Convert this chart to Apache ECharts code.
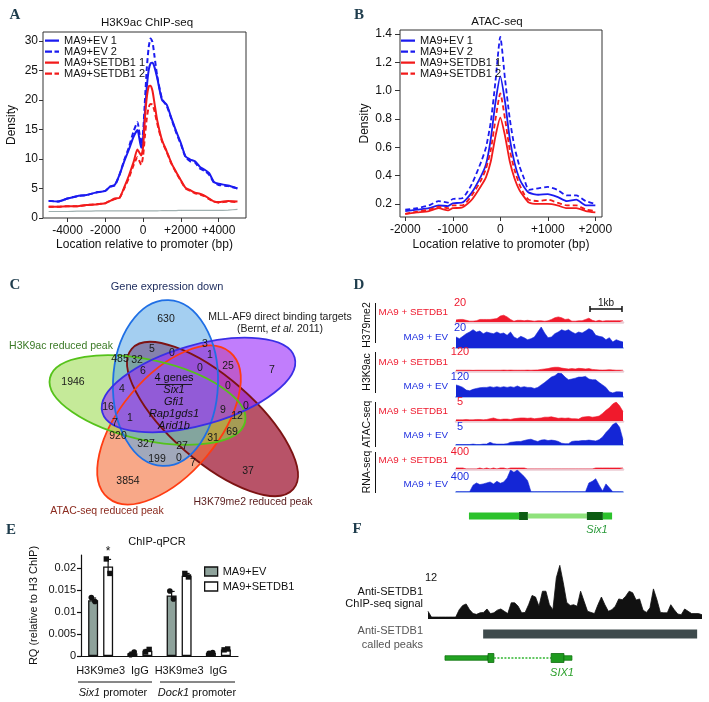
<!DOCTYPE html>
<html><head><meta charset="utf-8">
<script src="https://cdn.jsdelivr.net/npm/echarts@6/dist/echarts.min.js"></script>
<style>html,body{margin:0;padding:0;background:#fff}#c{width:709px;height:702px}</style>
</head><body><div id="c"></div>
<script>
// ===== Panel A: H3K9ac ChIP-seq profile =====
const posA = [-5000,-4500,-4000,-3500,-3000,-2500,-2000,-1750,-1500,-1250,-1000,-750,-500,-300,-100,0,100,200,300,400,500,600,750,1000,1250,1500,1750,2000,2250,2500,2750,3000,3250,3500,3750,4000,4500,5000];
const a_ev1 = [2.9,2.8,3.3,3.7,3.9,4.3,4.6,5.3,5.6,7.3,9.6,11.6,13.8,14.9,11.9,13.5,18,22.3,25.1,26.2,26.3,25.6,23.7,20,19.2,16.9,14.7,12.7,10.4,9.9,9.6,8.7,8.2,7.6,6.1,5.8,5.5,5.0];
const a_ev2 = [2.9,2.8,3.3,3.7,3.9,4.3,4.6,5.3,5.5,7.3,9.8,12,14.7,16.2,12.5,14.5,20,25.5,29,30.4,29.8,27.5,24,20.2,19,16.8,14.5,12.5,10.3,9.6,9.4,8.4,8.0,7.3,6.0,5.6,5.4,5.0];
const a_set1 = [1.9,1.9,2.0,2.0,2.2,2.3,2.5,2.9,3.3,3.4,5.2,7.2,9.5,11.6,10.6,12,17,20.5,22.3,22.4,21.5,19.5,16.5,13.2,11.3,9.3,7.8,6.4,5.1,4.7,4.3,4.1,3.8,3.3,2.8,2.7,2.9,2.8];
const a_set2 = [1.9,1.9,2.0,2.0,2.2,2.3,2.5,2.9,3.2,3.4,5.0,6.8,9.0,10.3,9.0,10.5,14,17,18.8,19.3,19.2,18.2,16,13.0,11.2,9.2,7.7,6.3,5.0,4.6,4.2,4.0,3.7,3.2,2.8,2.6,2.8,2.7];
const a_input = [1.1,1.1,1.1,1.15,1.15,1.2,1.2,1.2,1.2,1.2,1.2,1.2,1.2,1.2,1.2,1.2,1.2,1.2,1.2,1.2,1.2,1.2,1.2,1.25,1.25,1.25,1.25,1.3,1.3,1.3,1.3,1.3,1.3,1.3,1.3,1.3,1.35,1.45];
const a_xTicks = [-4000,-2000,0,2000,4000];
const a_yTicks = [0,5,10,15,20,25,30];

// ===== Panel B: ATAC-seq profile =====
const posB = [-2000,-1750,-1500,-1300,-1100,-1000,-800,-600,-400,-300,-200,-100,0,100,200,300,400,500,600,800,1000,1200,1400,1600,1800,2000];
const b_ev1 = [0.15,0.16,0.17,0.19,0.185,0.205,0.21,0.28,0.40,0.48,0.66,0.92,1.10,0.92,0.66,0.49,0.38,0.32,0.28,0.265,0.27,0.25,0.22,0.23,0.19,0.19];
const b_ev2 = [0.16,0.17,0.19,0.22,0.21,0.235,0.24,0.34,0.50,0.60,0.78,1.07,1.38,1.08,0.80,0.60,0.47,0.38,0.30,0.31,0.32,0.30,0.26,0.26,0.22,0.20];
const b_set1 = [0.13,0.14,0.15,0.17,0.155,0.17,0.175,0.23,0.33,0.39,0.50,0.68,0.81,0.68,0.50,0.38,0.30,0.25,0.21,0.20,0.20,0.19,0.17,0.17,0.15,0.14];
const b_set2 = [0.13,0.145,0.16,0.18,0.17,0.19,0.19,0.26,0.37,0.45,0.58,0.80,0.98,0.80,0.58,0.44,0.34,0.27,0.23,0.22,0.23,0.21,0.19,0.19,0.16,0.15];
const b_xTicks = [-2000,-1000,0,1000,2000];
const b_yTicks = [0.2,0.4,0.6,0.8,1.0,1.2,1.4];

const seriesNames = ['MA9+EV 1','MA9+EV 2','MA9+SETDB1 1','MA9+SETDB1 2'];

// ===== Panel C: Venn =====
const vennCounts = [630,1946,7,37,3854,485,32,5,0,3,1,0,25,6,4,0,0,16,9,12,1,7,920,69,31,327,27,199,0,7];
const vennCore = ['4 genes','Six1','Gfi1','Rap1gds1','Arid1b'];

// ===== Panel D: genome tracks (50 bins) =====
const d_k79_set = [2.5,3,3,2,1,1,1.5,3,3,3,3,3.5,4,7,8,6,3,1,2,2,1.5,2,1.5,1,1.5,1.5,1,1.5,3,5,6,5,3,3.5,1,1,1.5,1.5,3,4.5,2,1,2,1,1.5,1.5,1.5,1.5,1.5,1.5];
const d_k79_ev = [11,9.3,11.7,14.3,16,18.3,16,17,14.3,16,15,14.3,16,14.3,15,12.7,16,11,9.3,11.7,10.3,8.3,9.3,11,16,21,15,10.3,11,14.3,16,18.3,17,18.3,16,14.3,16,15,17,19.3,17.7,12.7,11.7,11,8.3,10.3,6,8.3,7,6];
const d_k9_set = [6,6,6,6,6,5,6,6,6,6,6,6,6,6,7,6,7,6,6,6,6,7,6,7,8,12,15,18,25,28,28,22,18,15,18,15,20,18,15,18,12,10,8,7,8,10,8,6,6,6];
const d_k9_ev = [68,62,54,39,35,43,48,52,54,54,58,54,58,54,58,54,58,54,62,54,58,54,54,48,54,68,81,97,112,120,135,132,112,97,101,106,112,112,116,101,97,97,81,68,54,29,23,29,29,27];
const d_atac_set = [0.3,0.3,0.3,0.4,0.3,0.3,0.4,0.4,0.3,0.4,0.6,0.8,0.5,0.4,0.5,0.5,0.4,0.6,0.7,0.8,0.8,0.7,0.8,0.6,0.7,0.8,1.0,1.0,1.1,0.9,0.7,0.8,0.7,0.8,0.6,0.6,0.5,1.0,1.1,1.2,1.0,1.1,1.3,2.0,2.8,3.5,4.5,5.0,4.0,2.5];
const d_atac_ev = [0.1,0.1,0.1,0.1,0.1,0.2,0.1,0.1,0.2,0.2,0.6,0.3,0.2,0.2,0.2,0.3,0.6,0.7,0.8,0.8,1.0,1.2,1.3,1.0,0.8,1.1,1.2,1.0,1.1,1.0,0.8,0.4,0.3,0.3,0.8,0.9,0.9,1.0,1.0,1.1,1.0,0.9,1.2,1.8,2.8,3.6,4.6,5.0,4.0,1.2];
const d_rna_set = [25,25,25,0,0,0,0,25,0,25,0,25,0,25,25,0,25,25,25,25,25,0,0,0,0,0,0,0,0,0,0,0,0,0,0,0,0,0,0,0,0,25,25,25,25,25,25,25,25,25];
const d_rna_ev = [5,5,5,5,5,124,165,135,147,165,182,147,194,159,182,253,400,359,400,341,282,206,5,5,5,5,5,5,5,5,5,5,5,5,5,5,5,5,5,165,194,241,124,18,147,76,5,5,5,5];
const d_scaleMax = ['20','20','120','120','5','5','400','400'];
const d_marks = ['H379me2','H3K9ac','ATAC-seq','RNA-seq'];
const d_geneStart = [3.8,18.5,21.1,38.4,43.1];
const d_geneEnd = [18.5,21.1,38.4,43.1,45.8];
const d_geneKind = [0,1,2,1,0];

// ===== Panel E: ChIP-qPCR =====
const eCats = ['Six1 H3K9me3','Six1 IgG','Dock1 H3K9me3','Dock1 IgG'];
const eTickLabels = ['H3K9me3','IgG','H3K9me3','IgG'];
const eEV = [0.0127,0.0006,0.0138,0.0007];
const eSET = [0.0204,0.0012,0.0183,0.0015];
const eEVerr = [0.0005,0.0003,0.0009,0.0001];
const eSETerr = [0.0016,0.0003,0.0005,0.0001];
const eEVrep1 = [0.0133,0.0003,0.0148,0.0006];
const eEVrep2 = [0.0124,0.0009,0.0130,0.0008];
const eSETrep1 = [0.0221,0.0009,0.0188,0.0014];
const eSETrep2 = [0.0188,0.0015,0.0180,0.0016];
const eSig = ['*','','',''];
const eYTicks = [0,0.005,0.01,0.015,0.02];

// ===== Panel F: SETDB1 ChIP-seq (80 bins) =====
const f_signal = [2.0,0.5,0.5,0.5,0.5,0.5,0.5,0.5,0.5,2.4,3.5,3.9,2.4,1.4,1.2,1.6,1.7,2.6,1.4,1.6,2.3,2.6,2.0,1.4,4.2,4.2,3.3,1.6,1.7,3.7,6.1,5.7,3.3,7.2,7.2,3.7,2.4,10.7,13.9,9.4,4.3,3.5,3.7,3.3,7.2,4.6,2.0,1.7,1.4,3.7,5.7,3.7,2.0,2.4,3.3,5.2,5.0,5.9,7.2,6.8,4.9,5.2,2.3,1.7,2.9,7.8,5.0,1.7,1.6,1.6,3.7,2.4,1.3,1.1,2.6,2.0,1.4,1.4,1.4,1.1];
const f_peakStart = [15.9];
const f_peakEnd = [77.6];
const f_geneStart = [4.9,17.3,19.0,35.5,39.2];
const f_geneEnd = [17.3,19.0,35.5,39.2,41.5];
const f_geneKind = [0,1,2,1,0];

// ================= styles / layout =================
const FONT = 'Liberation Sans';
const BLUE = '#1b1bf0', RED = '#f21b1b';
const TRACK_BLUE = '#1426d6', TRACK_RED = '#f01a2c';
const chart = echarts.init(document.getElementById('c'));

function xy(xs, ys){ return xs.map((x,i)=>[x, ys[i]]); }
function idx(ys){ return ys.map((v,i)=>[i, v]); }
function profLine(name, g, xs, ys, color, dashed, w){
  return {name, type:'line', xAxisIndex:g, yAxisIndex:g, data:xy(xs,ys), symbol:'none', showSymbol:false,
    smooth:0.2, lineStyle:{color, width:w, type: dashed ? [5,3] : 'solid'}, itemStyle:{color}, z:3};
}
function track(g, ys, color){
  return {type:'line', xAxisIndex:g, yAxisIndex:g, data:idx(ys), symbol:'none', showSymbol:false, silent:true,
    lineStyle:{width:0.6, color}, areaStyle:{color, opacity:1}, z:3};
}
function T(x, y, text, o){
  const st = Object.assign({text, fill:'#111', fontFamily:FONT, fontSize:11, align:'center', verticalAlign:'middle'}, o||{});
  const rot = st.rot || 0; delete st.rot;
  return {type:'text', x, y, rotation:rot, silent:true, z:50, style:st};
}
function L(x1,y1,x2,y2,color,w){
  return {type:'line', silent:true, z:50, shape:{x1,y1,x2,y2}, style:{stroke:color||'#111', lineWidth:w||1}};
}

// grids
const trackLayout = [[305,17],[327,21],[355,16],[373,24],[402,19],[421,24],[452,17],[470,22]];
const trackMax = [20,21,120,135,5,5.4,400,400];
const trackVals = [d_k79_set,d_k79_ev,d_k9_set,d_k9_ev,d_atac_set,d_atac_ev,d_rna_set,d_rna_ev];
const grids = [
  {left:43, top:32, width:203, height:186, show:true, borderColor:'#333', borderWidth:1},
  {left:400, top:30, width:202, height:187, show:true, borderColor:'#333', borderWidth:1},
  {left:81, top:555, width:157, height:101}
];
trackLayout.forEach(t => grids.push({left:456, width:167, top:t[0], height:t[1]}));
grids.push({left:456, width:167, top:510, height:12});   // D gene (grid 11)
grids.push({left:428, width:274, top:565, height:54});   // F signal (grid 12)
grids.push({left:428, width:274, top:634, height:24});   // F annotation (grid 13)

const axisTxt = {color:'#111', fontSize:12, fontFamily:FONT};
const xAxes = [
  {gridIndex:0, type:'value', min:-5300, max:5450, axisLine:{show:false, onZero:false}, splitLine:{show:false},
   axisTick:{show:true, length:4, customValues:a_xTicks, lineStyle:{color:'#333'}},
   axisLabel:Object.assign({customValues:a_xTicks, margin:7, formatter:v=> v>0 ? '+'+v : String(v)}, axisTxt),
   name:'Location relative to promoter (bp)', nameLocation:'middle', nameGap:21, nameTextStyle:axisTxt},
  {gridIndex:1, type:'value', min:-2110, max:2140, axisLine:{show:false, onZero:false}, splitLine:{show:false},
   axisTick:{show:true, length:4, customValues:b_xTicks, lineStyle:{color:'#333'}},
   axisLabel:Object.assign({customValues:b_xTicks, margin:7, formatter:v=> v>0 ? '+'+v : String(v)}, axisTxt),
   name:'Location relative to promoter (bp)', nameLocation:'middle', nameGap:22, nameTextStyle:axisTxt},
  {gridIndex:2, type:'category', data:eCats, axisLine:{onZero:false, lineStyle:{color:'#111', width:1.2}},
   axisTick:{alignWithLabel:true, length:4, lineStyle:{color:'#111', width:1.2}},
   axisLabel:{formatter:(v,i)=>eTickLabels[i], fontSize:11, color:'#111', margin:9, fontFamily:FONT, interval:0}}
];
const yAxes = [
  {gridIndex:0, type:'value', min:0, max:31.5, axisLine:{show:false, onZero:false}, splitLine:{show:false},
   axisTick:{show:true, length:4, customValues:a_yTicks, lineStyle:{color:'#333'}},
   axisLabel:Object.assign({customValues:a_yTicks, margin:5}, axisTxt),
   name:'Density', nameLocation:'middle', nameGap:25, nameRotate:90, nameTextStyle:axisTxt},
  {gridIndex:1, type:'value', min:0.108, max:1.428, axisLine:{show:false, onZero:false}, splitLine:{show:false},
   axisTick:{show:true, length:5, customValues:b_yTicks, lineStyle:{color:'#333'}},
   axisLabel:Object.assign({customValues:b_yTicks, margin:8, formatter:v=>v.toFixed(1)}, axisTxt),
   name:'Density', nameLocation:'middle', nameGap:29, nameRotate:90, nameTextStyle:axisTxt},
  {gridIndex:2, type:'value', min:0, max:0.023, splitLine:{show:false},
   axisLine:{show:true, onZero:false, lineStyle:{color:'#111', width:1.2}},
   axisTick:{show:true, length:4, customValues:eYTicks, lineStyle:{color:'#111', width:1.2}},
   axisLabel:{customValues:eYTicks, fontSize:11, color:'#111', margin:5, fontFamily:FONT, formatter:v=>String(+(+v).toFixed(4))},
   name:'RQ (relative to H3 ChIP)', nameLocation:'middle', nameGap:42, nameRotate:90,
   nameTextStyle:{fontSize:11, color:'#111', fontFamily:FONT}}
];
trackLayout.forEach((t, k) => {
  const g = 3 + k, isRed = k % 2 === 0;
  xAxes.push({gridIndex:g, type:'value', min:0, max:49, splitLine:{show:false}, axisTick:{show:false}, axisLabel:{show:false},
    axisLine:{show:true, onZero:false, lineStyle:{color: isRed ? '#ecccd3' : '#a4bdf0', width: isRed ? 2.5 : 2}}});
  yAxes.push({gridIndex:g, type:'value', min:0, max:trackMax[k], show:false, splitLine:{show:false}});
});
xAxes.push({gridIndex:11, type:'value', min:0, max:49, show:false});
yAxes.push({gridIndex:11, type:'value', min:0, max:1, show:false});
xAxes.push({gridIndex:12, type:'value', min:0, max:79, show:false});
yAxes.push({gridIndex:12, type:'value', min:0, max:14, show:false});
xAxes.push({gridIndex:13, type:'value', min:0, max:79, show:false});
yAxes.push({gridIndex:13, type:'value', min:0, max:1, show:false});

// series
const series = [
  {name:'Input', type:'line', xAxisIndex:0, yAxisIndex:0, data:xy(posA,a_input), symbol:'none', smooth:0.2, lineStyle:{color:'#9fb0b0', width:1.2}, z:2},
  profLine(seriesNames[0],0,posA,a_ev1,BLUE,false,2),
  profLine(seriesNames[1],0,posA,a_ev2,BLUE,true,2),
  profLine(seriesNames[2],0,posA,a_set1,RED,false,2),
  profLine(seriesNames[3],0,posA,a_set2,RED,true,2),
  profLine(seriesNames[0],1,posB,b_ev1,BLUE,false,1.8),
  profLine(seriesNames[1],1,posB,b_ev2,BLUE,true,1.8),
  profLine(seriesNames[2],1,posB,b_set1,RED,false,1.8),
  profLine(seriesNames[3],1,posB,b_set2,RED,true,1.8),
  {name:'MA9+EV', type:'bar', xAxisIndex:2, yAxisIndex:2, data:eEV, barWidth:10, barGap:'50%',
   itemStyle:{color:'#8ea29b', borderColor:'#111', borderWidth:1.3}},
  {name:'MA9+SETDB1', type:'bar', xAxisIndex:2, yAxisIndex:2, data:eSET, barWidth:10, barGap:'50%',
   itemStyle:{color:'#ffffff', borderColor:'#111', borderWidth:1.3}}
];
function errRenderer(dx, square){
  return function(params, api){
    const cat = api.value(0), m = api.value(1), e = api.value(2), r1 = api.value(3), r2 = api.value(4);
    const cx = api.coord([cat, 0])[0] + dx;
    const yT = api.coord([cat, m + e])[1], yB = api.coord([cat, Math.max(0, m - e)])[1];
    const kids = [
      {type:'line', shape:{x1:cx, y1:yT, x2:cx, y2:yB}, style:{stroke:'#111', lineWidth:1.2}},
      {type:'line', shape:{x1:cx-3, y1:yT, x2:cx+3, y2:yT}, style:{stroke:'#111', lineWidth:1.2}}
    ];
    [[r1,-1.8],[r2,1.8]].forEach(p => {
      const py = api.coord([cat, p[0]])[1], px = cx + p[1];
      kids.push(square ? {type:'rect', shape:{x:px-2.7, y:py-2.7, width:5.4, height:5.4}, style:{fill:'#111'}}
                       : {type:'circle', shape:{cx:px, cy:py, r:2.8}, style:{fill:'#111'}});
    });
    const sig = square ? eSig[cat] : '';
    if (sig) kids.push({type:'text', style:{text:sig, x:cx, y:yT-2, align:'center', verticalAlign:'bottom', fontSize:12, fontFamily:FONT, fill:'#111'}});
    return {type:'group', children:kids};
  };
}
series.push({type:'custom', xAxisIndex:2, yAxisIndex:2, renderItem:errRenderer(-7.5,false), z:5, silent:true,
  encode:{x:0, y:1}, data:eCats.map((c,i)=>[i, eEV[i], eEVerr[i], eEVrep1[i], eEVrep2[i]])});
series.push({type:'custom', xAxisIndex:2, yAxisIndex:2, renderItem:errRenderer(7.5,true), z:5, silent:true,
  encode:{x:0, y:1}, data:eCats.map((c,i)=>[i, eSET[i], eSETerr[i], eSETrep1[i], eSETrep2[i]])});

trackVals.forEach((v,k) => series.push(track(3+k, v, k % 2 === 0 ? TRACK_RED : TRACK_BLUE)));

function segRenderer(styles){
  return function(params, api){
    const s = api.value(0), e = api.value(1), row = api.value(2), st = styles[api.value(3)];
    const p0 = api.coord([s,row]), p1 = api.coord([e,row]);
    if (st.line) return {type:'line', shape:{x1:p0[0], y1:p0[1], x2:p1[0], y2:p1[1]}, style:{stroke:st.stroke, lineWidth:st.h, lineDash:st.dash}};
    return {type:'rect', shape:{x:p0[0], y:p0[1]-st.h/2, width:p1[0]-p0[0], height:st.h, r:st.r||0},
            style:{fill:st.fill, stroke:st.stroke||null, lineWidth:st.lw||0}};
  };
}
const dGeneStyles = [{h:7, fill:'#2cc22c'},{h:8, fill:'#0c5c12'},{h:5, fill:'#8fe27c'}];
series.push({type:'custom', xAxisIndex:11, yAxisIndex:11, silent:true, renderItem:segRenderer(dGeneStyles), encode:{x:[0,1], y:2},
  data:d_geneStart.map((s,i)=>[s, d_geneEnd[i], 0.5, d_geneKind[i]])});
series.push({type:'line', xAxisIndex:12, yAxisIndex:12, data:idx(f_signal), symbol:'none', silent:true,
  lineStyle:{width:0.8, color:'#111'}, areaStyle:{color:'#111', opacity:1}});
const fStyles = [{h:4.5, fill:'#22a322', stroke:'#0f750f', lw:0.8},{h:9, fill:'#1e9a1e', stroke:'#0f6c0f', lw:0.8},
                 {line:true, h:1.5, stroke:'#2fb52f', dash:[2,1.5]},{h:9, fill:'#3e4a4c'}];
const fAnnot = f_peakStart.map((s,i)=>[s, f_peakEnd[i], 1, 3]).concat(f_geneStart.map((s,i)=>[s, f_geneEnd[i], 0, f_geneKind[i]]));
series.push({type:'custom', xAxisIndex:13, yAxisIndex:13, silent:true, renderItem:segRenderer(fStyles), encode:{x:[0,1], y:2}, data:fAnnot});

// legends (line icons drawn as paths: solid / dashed, bbox 14x10)
const ICON_SOLID = 'path://M0 0h0.01v0.01h-0.01z M14 10h-0.01v-0.01h0.01z M0 3.9h14v2.4h-14z';
const ICON_DASH = 'path://M0 0h0.01v0.01h-0.01z M14 10h-0.01v-0.01h0.01z M0 3.9h7v2.4h-7z M9.5 3.9h4.5v2.4h-4.5z';
const legData = seriesNames.map((n,i) => ({name:n, icon: i % 2 ? ICON_DASH : ICON_SOLID}));
const legText = {fontSize:11, lineHeight:11, color:'#111', fontFamily:FONT};
const legends = [
  {data:legData, orient:'vertical', left:45, top:35, itemWidth:14, itemHeight:10, itemGap:0, padding:0, selectedMode:false,
   itemStyle:{borderWidth:0}, lineStyle:{width:0}, textStyle:legText},
  {data:legData, orient:'vertical', left:401, top:35, itemWidth:14, itemHeight:10, itemGap:0, padding:0, selectedMode:false,
   itemStyle:{borderWidth:0}, lineStyle:{width:0}, textStyle:legText},
  {data:['MA9+EV','MA9+SETDB1'], orient:'vertical', left:204, top:566, icon:'rect', itemWidth:13, itemHeight:9, itemGap:4, padding:0,
   selectedMode:false, itemStyle:{borderColor:'#111', borderWidth:1.3}, textStyle:{fontSize:11, color:'#111', fontFamily:FONT}}
];

// graphic elements
const G = [];
[['A',15,15],['B',359,15],['C',15,285],['D',359,285],['E',11,530],['F',357,529]].forEach(p =>
  G.push(T(p[1],p[2],p[0],{fontFamily:'Liberation Sans Narrow', fontWeight:'bold', fontSize:15, fill:'#1e3c4c'})));
G.push(T(147,23,'H3K9ac ChIP-seq',{fontSize:11.5}));
G.push(T(497,22,'ATAC-seq',{fontSize:11.5}));

// Venn shapes (drawn in this order)
const vennShapes = [
  {cx:212.5, cy:419, rx:107, ry:42, rot:-41, fill:'rgba(156,16,46,0.72)', stroke:'#7d1313'},
  {cx:169, cy:425, rx:95, ry:49, rot:50, fill:'rgba(243,110,57,0.6)', stroke:'#ff3c12'},
  {cx:147.5, cy:400, rx:100, ry:40, rot:-12.7, fill:'rgba(150,217,70,0.55)', stroke:'#55c21a'},
  {cx:165.5, cy:383, rx:52.5, ry:83, rot:-2, fill:'rgba(90,167,230,0.55)', stroke:'#1f6fe5'},
  {cx:198.5, cy:385, rx:100, ry:40, rot:16, fill:'rgba(155,45,250,0.62)', stroke:'#3a2fe6'}
];
vennShapes.forEach(s => G.push({type:'ellipse', x:s.cx, y:s.cy, rotation:s.rot*Math.PI/180, silent:true, z:10,
  shape:{cx:0, cy:0, rx:s.rx, ry:s.ry}, style:{fill:s.fill, stroke:null}}));
vennShapes.forEach(s => G.push({type:'ellipse', x:s.cx, y:s.cy, rotation:s.rot*Math.PI/180, silent:true, z:11,
  shape:{cx:0, cy:0, rx:s.rx, ry:s.ry}, style:{fill:null, stroke:s.stroke, lineWidth:1.8}}));
const vennCountPos = [[166,319],[73,382],[272,370],[248,471],[128,481],[120,359],[137,360],[152,349],[172,353],[205,344],[210,355],[200,368],[228,366],[143,371],[122,389],[228,386],[246,406],[108,407],[223,410],[237,416],[130,418],[115,423],[118,436],[232,432],[213,438],[146,444],[182,446],[157,459],[179,458],[193,463]];
vennCounts.forEach((c,i) => G.push(T(vennCountPos[i][0], vennCountPos[i][1], String(c), {fontSize:10.5, fill:'#1a1a1a'})));
vennCore.forEach((t,i) => G.push(T(174, 378 + i*12, t, {fontSize:11, fill:'#111', fontStyle: i ? 'italic' : 'normal'})));
G.push(L(156,384.5,192,384.5,'#111',0.9));
G.push(T(167,287,'Gene expression down',{fill:'#1b2a5c', fontSize:11}));
G.push(T(280,317,'MLL-AF9 direct binding targets',{fill:'#222', fontSize:10.5}));
G.push(T(280,329,'{a|(Bernt, }{b|et al.}{a| 2011)}',{fill:'#222', fontSize:10.5,
  rich:{a:{fontSize:10.5, fontFamily:FONT, fill:'#222'}, b:{fontSize:10.5, fontFamily:FONT, fontStyle:'italic', fill:'#222'}}}));
G.push(T(61,346,'H3K9ac reduced peak',{fill:'#3b7a26', fontSize:10.5}));
G.push(T(107,511,'ATAC-seq reduced peak',{fill:'#8b2a1e', fontSize:10.5}));
G.push(T(253,502,'H3K79me2 reduced peak',{fill:'#5a1c1c', fontSize:10.5}));

// D labels
const setY = [312,362,411,460], evY = [337,386,435,484];
setY.forEach(y => G.push(T(448,y,'MA9 + SETDB1',{align:'right', fill:'#ee1a2e', fontSize:9.8})));
evY.forEach(y => G.push(T(448,y,'MA9 + EV',{align:'right', fill:'#1f2fe0', fontSize:9.8})));
const scaleY = [303,328,352,377,402,427,452,477];
d_scaleMax.forEach((s,i) => G.push(T(460, scaleY[i], s, {fill: i % 2 === 0 ? '#ee1a2e' : '#1f2fe0'})));
const markY = [325,372,424,472], markSpan = [[303,343],[352,393],[402,447],[452,493]];
d_marks.forEach((m,i) => {
  G.push(T(367, markY[i], m, {rot:Math.PI/2, fontSize:10.5}));
  G.push(L(375.5, markSpan[i][0], 375.5, markSpan[i][1], '#111', 1));
});
G.push(T(606,303,'1kb',{fontSize:10}));
G.push(L(590,309,622,309,'#111',1.5));
G.push(L(590,306,590,312,'#111',1.5));
G.push(L(622,306,622,312,'#111',1.5));
G.push(T(597,530,'Six1',{fontStyle:'italic', fill:'#2a9a3a'}));

// E labels
G.push(T(157,542,'ChIP-qPCR'));
G.push(L(78,682,152,682,'#111',1));
G.push(L(160,682,235,682,'#111',1));
const richE = {i:{fontStyle:'italic', fontSize:11, fontFamily:FONT, fill:'#111'}, n:{fontSize:11, fontFamily:FONT, fill:'#111'}};
G.push(T(113,693,'{i|Six1}{n| promoter}',{rich:richE}));
G.push(T(197,693,'{i|Dock1}{n| promoter}',{rich:richE}));

// F labels
G.push(T(431,578,'12'));
G.push(T(423,592,'Anti-SETDB1',{align:'right'}));
G.push(T(423,604,'ChIP-seq signal',{align:'right'}));
G.push(T(423,631,'Anti-SETDB1',{align:'right', fill:'#555'}));
G.push(T(423,645,'called peaks',{align:'right', fill:'#555'}));
G.push(T(562,673,'SIX1',{fontStyle:'italic', fill:'#2aa02a'}));

chart.setOption({
  animation:false,
  backgroundColor:'#ffffff',
  textStyle:{fontFamily:FONT},
  grid:grids, xAxis:xAxes, yAxis:yAxes, legend:legends, series, graphic:G
});
</script></body></html>
